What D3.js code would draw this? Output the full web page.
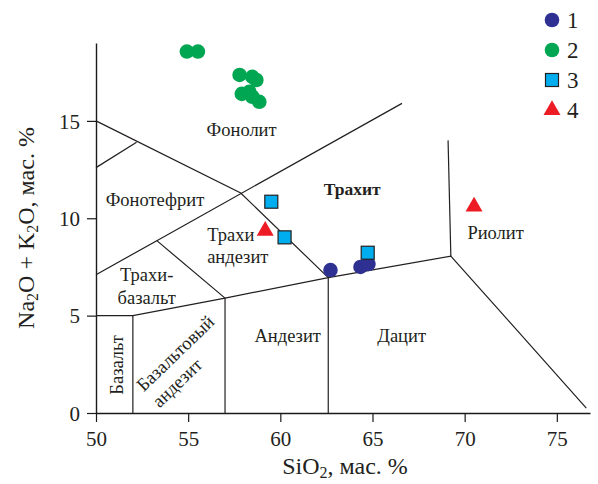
<!DOCTYPE html>
<html>
<head>
<meta charset="utf-8">
<script src="https://cdn.jsdelivr.net/npm/d3@7"></script>
<style>
  html, body { margin: 0; padding: 0; background: #fff; }
  svg { display: block; font-family: "Liberation Serif", "Times New Roman", serif; }
</style>
</head>
<body>
<svg id="chart" width="598" height="484"></svg>
<script>
// --- TAS diagram data: SiO2 (x) vs Na2O + K2O (y), wt. % ---
const xTicks = [50, 55, 60, 65, 70, 75];
const yTicks = [0, 5, 10, 15];

// Sample groups
const group1Si = [62.72, 64.35, 64.78];
const group1Alk = [7.34, 7.50, 7.65];

const group2Si = [54.93, 55.53, 57.79, 58.48, 58.70, 57.91, 58.32, 58.48, 58.86];
const group2Alk = [18.56, 18.56, 17.36, 17.26, 17.10, 16.39, 16.49, 16.24, 15.98];

const group3Si = [59.51, 60.23, 64.74];
const group3Alk = [10.85, 9.02, 8.23];

const group4Si = [59.18, 70.51];
const group4Alk = [9.36, 10.60];

const legendLabels = ["1", "2", "3", "4"];

// Field boundaries (SiO2, Na2O+K2O)
const boundaries = [
  [[50, 5], [52, 5], [57, 5.9], [62.6, 6.95], [69.25, 8.06], [76.6, 0.25]],
  [[52, 0], [52, 5]],
  [[57, 0], [57, 5.9]],
  [[62.6, 0], [62.6, 6.95]],
  [[50, 7.1], [53.3, 8.85], [57, 5.9]],
  [[53.3, 8.85], [66.6, 15.9]],
  [[50, 15], [57.85, 11.3], [62.6, 6.95]],
  [[50, 12.6], [52.2, 13.9]],
  [[69.25, 8.06], [69.1, 14.0]]
];

// Field names: [lines, SiO2, alkali, anchor, rotation, weight]
const fieldNames = [
  [["Фонолит"], 57.9, 14.55, "middle", 0, "normal"],
  [["Фонотефрит"], 53.2, 10.94, "middle", 0, "normal"],
  [["Трахит"], 63.9, 11.5, "middle", 0, "bold"],
  [["Трахи", "андезит"], 56.03, 9.19, "start", 0, "normal"],
  [["Трахи-", "базальт"], 52.75, 7.09, "middle", 0, "normal"],
  [["Базальт"], 51.12, 2.47, "middle", -90, "normal"],
  [["Базальтовый", "андезит"], 52.35, 1.3, "start", -44, "normal"],
  [["Андезит"], 60.4, 4.0, "middle", 0, "normal"],
  [["Дацит"], 66.58, 4.0, "middle", 0, "normal"],
  [["Риолит"], 71.68, 9.25, "middle", 0, "normal"]
];

const colors = { g1: "#2e3192", g2: "#00a651", g3: "#00aeef", g4: "#ed1c24" };

const svg = d3.select("#chart");
const x = d3.scaleLinear().domain([50, 76.8]).range([96, 590]);
const y = d3.scaleLinear().domain([0, 19]).range([413, 43]);

// Axes
const xAxis = svg.append("g")
  .attr("transform", `translate(0,${y(0)})`)
  .call(d3.axisBottom(x).tickValues(xTicks).tickSize(9).tickSizeOuter(0).tickPadding(6));
const yAxis = svg.append("g")
  .attr("transform", `translate(${x(50)},0)`)
  .call(d3.axisLeft(y).tickValues(yTicks).tickSize(9).tickSizeOuter(0).tickPadding(7));

[xAxis, yAxis].forEach(a => {
  a.select(".domain").attr("stroke", "#1a1a1a").attr("stroke-width", 1.4);
  a.selectAll(".tick line").attr("stroke", "#1a1a1a").attr("stroke-width", 1.2);
  a.selectAll(".tick text")
    .attr("font-family", "Liberation Serif, serif")
    .attr("font-size", 21)
    .attr("fill", "#231f20");
});
xAxis.selectAll(".tick text").attr("dy", "0.85em");
yAxis.selectAll(".tick text").attr("dy", "0.35em");

// Boundaries
const line = d3.line().x(d => x(d[0])).y(d => y(d[1]));
svg.append("g").selectAll("path").data(boundaries).join("path")
  .attr("d", line)
  .attr("fill", "none")
  .attr("stroke", "#231f20")
  .attr("stroke-width", 1.2);

// Field names
const nameG = svg.append("g").attr("fill", "#231f20").attr("font-size", 18.5);
fieldNames.forEach(([lines, sx, ay, anchor, rot, weight]) => {
  const g = nameG.append("g")
    .attr("transform", `translate(${x(sx)},${y(ay)}) rotate(${rot})`);
  const t = g.append("text")
    .attr("text-anchor", anchor)
    .attr("font-weight", weight)
    .attr("font-size", weight === "bold" ? 17.5 : null);
  lines.forEach((s, i) => {
    t.append("tspan").attr("x", 0).attr("dy", i === 0 ? "0.35em" : "1.22em").text(s);
  });
});

// Markers
const circles = (si, alk, color) => svg.append("g").selectAll("circle")
  .data(d3.zip(si, alk)).join("circle")
  .attr("cx", d => x(d[0])).attr("cy", d => y(d[1]))
  .attr("r", 7.3).attr("fill", color);

circles(group2Si, group2Alk, colors.g2);
circles(group1Si, group1Alk, colors.g1);

const sq = 13;
svg.append("g").selectAll("rect")
  .data(d3.zip(group3Si, group3Alk)).join("rect")
  .attr("x", d => x(d[0]) - sq / 2).attr("y", d => y(d[1]) - sq / 2)
  .attr("width", sq).attr("height", sq)
  .attr("fill", colors.g3).attr("stroke", "#231f20").attr("stroke-width", 1.2);

const tri = d3.symbol().type(d3.symbolTriangle).size(125);
svg.append("g").selectAll("path")
  .data(d3.zip(group4Si, group4Alk)).join("path")
  .attr("d", tri)
  .attr("transform", d => `translate(${x(d[0])},${y(d[1])})`)
  .attr("fill", colors.g4);

// Legend
const legend = svg.append("g").attr("transform", "translate(552,20)");
legendLabels.forEach((lab, i) => {
  const g = legend.append("g").attr("transform", `translate(0,${i * 30})`);
  if (i === 0 || i === 1) {
    g.append("circle").attr("r", 7.3).attr("fill", i === 0 ? colors.g1 : colors.g2);
  } else if (i === 2) {
    g.append("rect").attr("x", -sq / 2).attr("y", -sq / 2).attr("width", sq).attr("height", sq)
      .attr("fill", colors.g3).attr("stroke", "#231f20").attr("stroke-width", 1.2);
  } else {
    g.append("path").attr("d", tri).attr("fill", colors.g4);
  }
  g.append("text").attr("x", 15).attr("dy", "0.35em")
    .attr("font-size", 23).attr("fill", "#231f20").text(lab);
});

// Axis titles
const xt = svg.append("text")
  .attr("x", 345).attr("y", 474)
  .attr("text-anchor", "middle").attr("font-size", 24).attr("fill", "#231f20");
xt.append("tspan").text("SiO");
xt.append("tspan").attr("font-size", 16).attr("dy", 4).text("2");
xt.append("tspan").attr("dy", -4).text(", мас. %");

const yt = svg.append("text")
  .attr("transform", `translate(34,${(y(0) + y(19)) / 2}) rotate(-90)`)
  .attr("text-anchor", "middle").attr("font-size", 24).attr("fill", "#231f20");
yt.append("tspan").text("Na");
yt.append("tspan").attr("font-size", 16).attr("dy", 4).text("2");
yt.append("tspan").attr("dy", -4).text("O + K");
yt.append("tspan").attr("font-size", 16).attr("dy", 4).text("2");
yt.append("tspan").attr("dy", -4).text("O, мас. %");
</script>
</body>
</html>
